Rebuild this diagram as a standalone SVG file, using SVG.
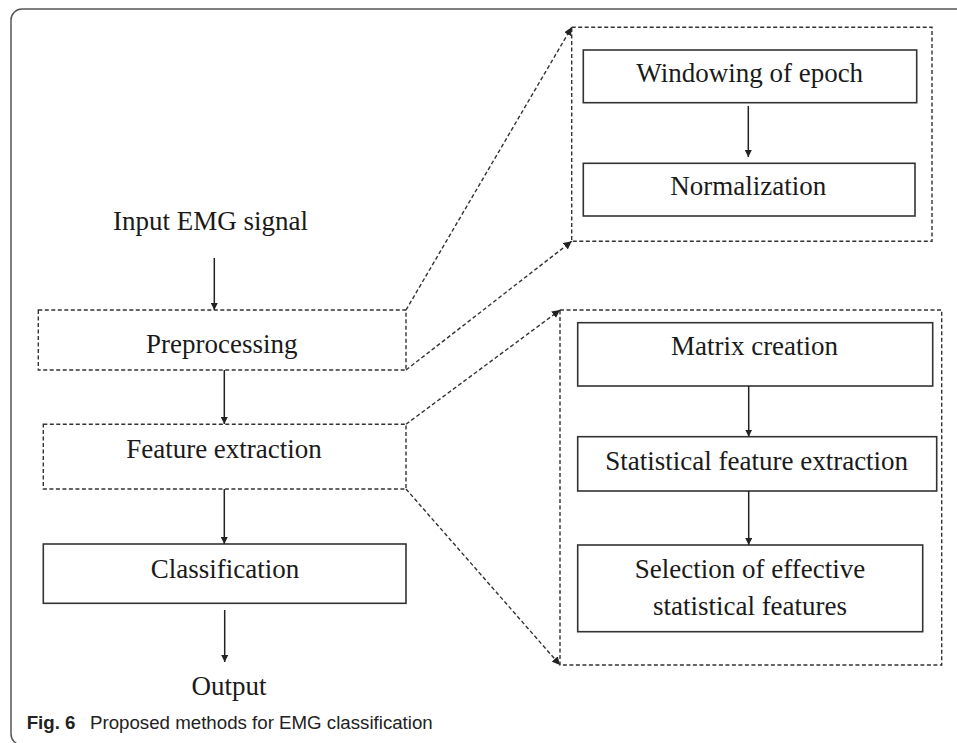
<svg xmlns="http://www.w3.org/2000/svg" width="957" height="743" viewBox="0 0 957 743">
<style>
.lbl{font-family:"Liberation Serif","Times New Roman",serif;font-size:27px;fill:#1a1a1a;text-anchor:middle}
.dbox{fill:none;stroke:#333;stroke-width:1.4;stroke-dasharray:4 2.5}
.sbox{fill:none;stroke:#333;stroke-width:1.6}
.arr{fill:none;stroke:#222;stroke-width:1.5;marker-end:url(#ah)}
.darr{fill:none;stroke:#333;stroke-width:1.4;stroke-dasharray:4 2.5;marker-end:url(#ah2)}
.cap{font-family:"Liberation Sans",Arial,sans-serif;font-size:18.7px;fill:#222}
</style>
<defs>
<marker id="ah" viewBox="0 0 10 10" refX="10" refY="5" markerWidth="7" markerHeight="7" markerUnits="userSpaceOnUse" orient="auto">
<path d="M0,0 L10,5 L0,10 z" fill="#222"/>
</marker>
<marker id="ah2" viewBox="0 0 10 10" refX="10" refY="5" markerWidth="8" markerHeight="8" markerUnits="userSpaceOnUse" orient="auto">
<path d="M0,0 L10,5 L0,10 z" fill="#222"/>
</marker>
</defs>
<rect width="957" height="743" fill="#fff"/>
<rect id="frame" x="11" y="9" width="990" height="736" rx="11" fill="none" stroke="#555" stroke-width="1.5"/>

<g id="input"><text class="lbl" x="210.5" y="230">Input EMG signal</text></g>
<g id="preprocessing"><rect class="dbox" x="38.3" y="310" width="367.7" height="60"/><text class="lbl" x="221.7" y="352.5">Preprocessing</text></g>
<g id="feature-extraction"><rect class="dbox" x="43.3" y="424.3" width="362.7" height="64.7"/><text class="lbl" x="224" y="457.5">Feature extraction</text></g>
<g id="classification"><rect class="sbox" x="43.3" y="544" width="362.7" height="59.3"/><text class="lbl" x="225" y="577.5">Classification</text></g>
<g id="output"><text class="lbl" x="229" y="695">Output</text></g>

<g id="preprocessing-detail"><rect class="dbox" x="571.7" y="27.3" width="360.3" height="214"/></g>
<g id="windowing"><rect class="sbox" x="583.3" y="50" width="333.4" height="52.7"/><text class="lbl" x="749.7" y="82">Windowing of epoch</text></g>
<g id="normalization"><rect class="sbox" x="583.3" y="163.3" width="331.7" height="52.7"/><text class="lbl" x="748.3" y="195">Normalization</text></g>

<g id="feature-detail"><rect class="dbox" x="560" y="310" width="381.7" height="355"/></g>
<g id="matrix"><rect class="sbox" x="577.7" y="322.7" width="355" height="63.3"/><text class="lbl" x="754.5" y="354.5">Matrix creation</text></g>
<g id="statistical"><rect class="sbox" x="577.7" y="436.7" width="359" height="54.3"/><text class="lbl" x="756.7" y="470">Statistical feature extraction</text></g>
<g id="selection"><rect class="sbox" x="577.7" y="545" width="345" height="86.7"/><text class="lbl" x="750" y="578">Selection of effective</text><text class="lbl" x="750" y="615">statistical features</text></g>

<g id="connectors">
<line class="arr" x1="214.3" y1="258" x2="214.3" y2="310"/>
<line class="arr" x1="224.3" y1="370" x2="224.3" y2="424"/>
<line class="arr" x1="224.3" y1="489" x2="224.3" y2="544"/>
<line class="arr" x1="224.7" y1="610" x2="224.7" y2="662"/>
<line class="arr" x1="748.3" y1="106" x2="748.3" y2="157"/>
<line class="arr" x1="748.7" y1="386" x2="748.7" y2="436.7"/>
<line class="arr" x1="748.7" y1="491" x2="748.7" y2="545"/>
<line class="darr" x1="406" y1="310" x2="571.7" y2="27.3"/>
<line class="darr" x1="406" y1="370" x2="571.7" y2="241.3"/>
<line class="darr" x1="406" y1="424.3" x2="560" y2="310"/>
<line class="darr" x1="406" y1="489" x2="560" y2="665"/>
</g>

<g id="caption"><text class="cap" x="26.7" y="728.5"><tspan font-weight="bold">Fig. 6</tspan><tspan x="90">Proposed methods for EMG classification</tspan></text></g>
</svg>
